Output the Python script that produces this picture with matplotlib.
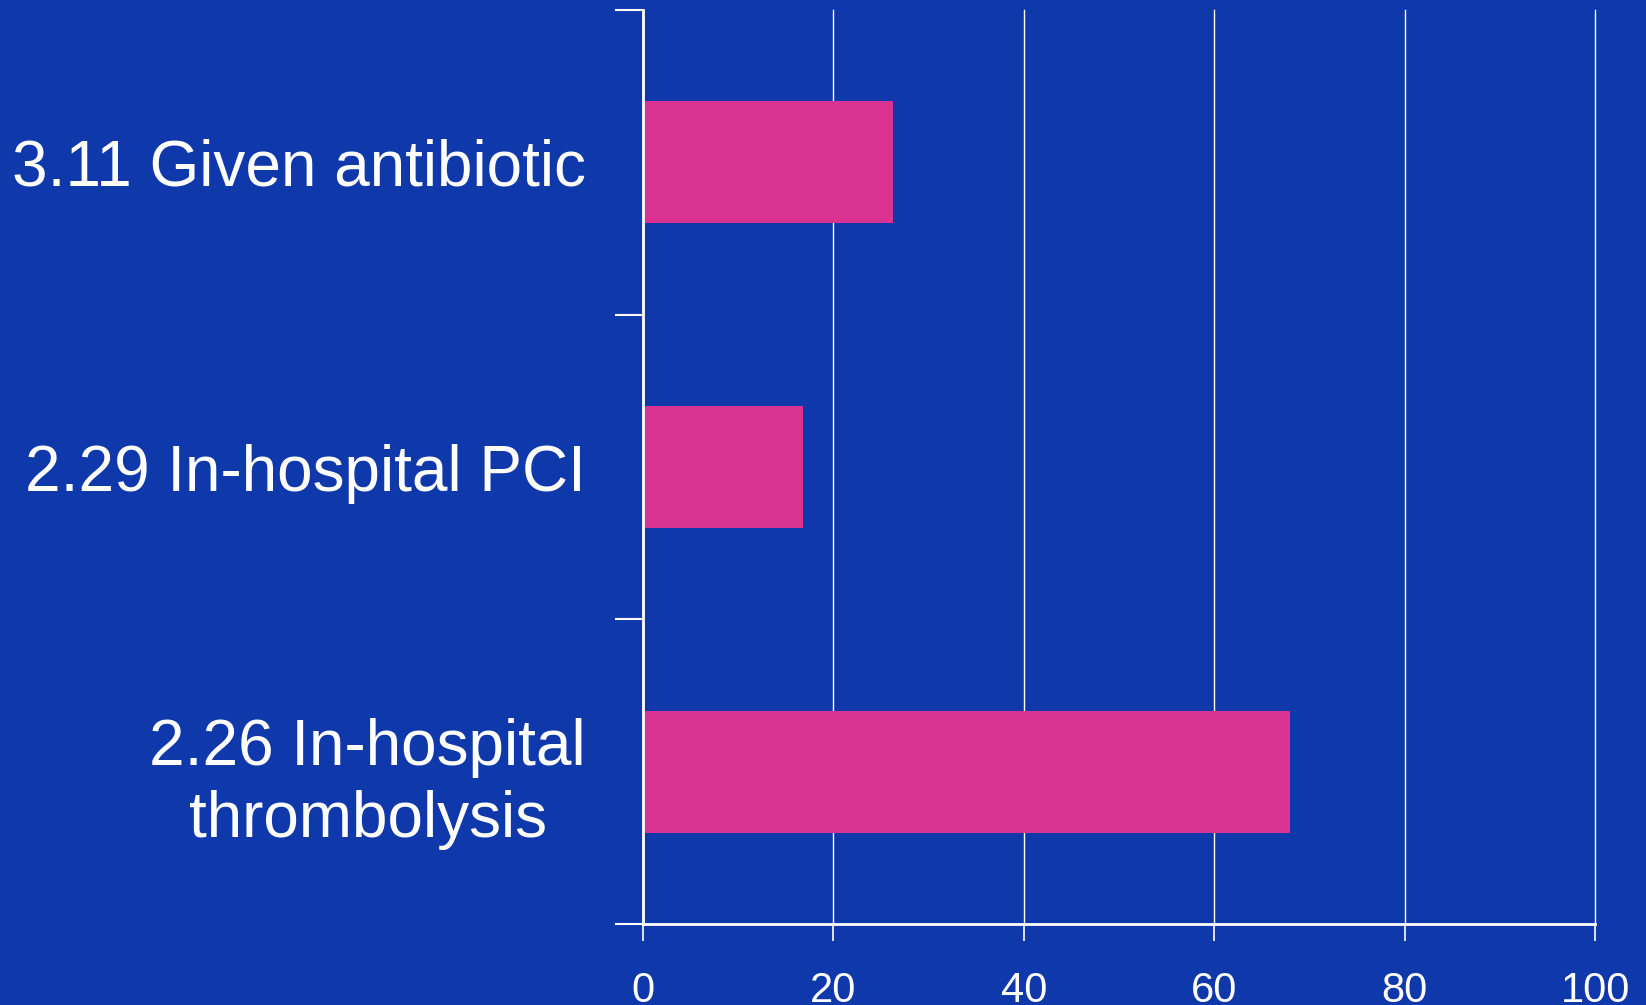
import matplotlib
matplotlib.use("Agg")
import matplotlib.pyplot as plt
import numpy as np

categories = ["3.11 Given antibiotic", "2.29 In-hospital PCI", "2.26 In-hospital\nthrombolysis"]
values = [26.3, 16.8, 67.9]
xticks = [0, 20, 40, 60, 80, 100]

BG = "#0F38AA"
BAR = "#DA3291"

plt.rcParams['font.family'] = ['Liberation Sans', 'DejaVu Sans']

fig = plt.figure(figsize=(16.46, 10.05), dpi=100, facecolor=BG)
ax = fig.add_axes([643/1646, 1 - 924/1005, (1595.3 - 643)/1646, (924 - 10)/1005])
ax.set_facecolor(BG)

pos = np.arange(len(categories))
ax.barh(pos, values, height=0.4, color=BAR, zorder=3)

ax.set_xlim(0, 100)
ax.set_ylim(len(categories) - 0.5, -0.5)

ax.set_xticks(xticks)
ax.set_xticklabels([str(t) for t in xticks])
ax.tick_params(axis='x', colors='white', length=12, width=1.2, labelsize=30, pad=22)

ax.set_yticks(np.arange(-0.5, len(categories), 1.0))
ax.set_yticklabels([])
ax.set_yticks(pos, minor=True)
ax.set_yticklabels(categories, minor=True, fontsize=46, color='white',
                   ha='right', multialignment='center', linespacing=1.25)
ax.tick_params(axis='y', which='major', colors='white', length=20, width=1.5)
ax.tick_params(axis='y', which='minor', length=0, pad=41)

ax.grid(axis='x', color='white', linewidth=1.0, zorder=1)
for gl in ax.xaxis.get_gridlines():
    gl.set_clip_on(False)
ax.set_axisbelow(True)

for s in ['top', 'right']:
    ax.spines[s].set_visible(False)
for s in ['left', 'bottom']:
    ax.spines[s].set_color('white')
    ax.spines[s].set_linewidth(2)
    ax.spines[s].set_zorder(4)

fig.savefig("out.png", dpi=100, facecolor=BG)
